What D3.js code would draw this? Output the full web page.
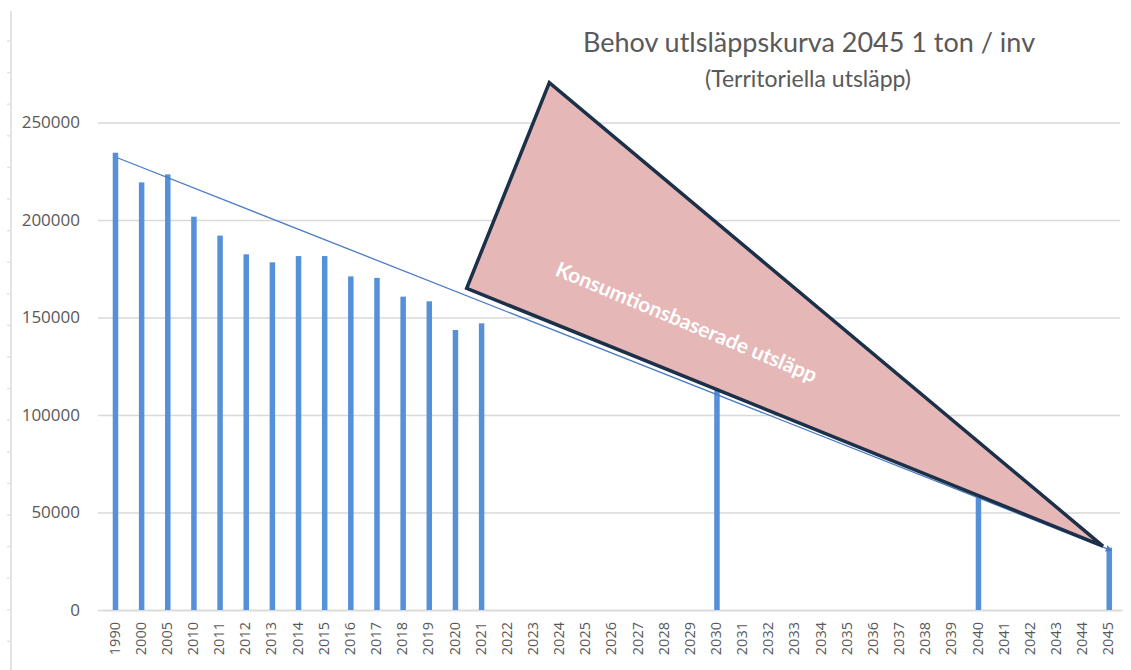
<!DOCTYPE html>
<html>
<head>
<meta charset="utf-8">
<script src="https://cdn.jsdelivr.net/npm/d3@7"></script>
<style>
  body { margin: 0; background: #fff; }
  svg { display: block; font-family: Lato, "Open Sans", sans-serif; }
</style>
</head>
<body>
<svg></svg>
<script>
// categories on the x axis (uneven years, like the sheet)
let years = ["1990", "2000", "2005", "2010", "2011", "2012", "2013", "2014", "2015", "2016",
  "2017", "2018", "2019", "2020", "2021", "2022", "2023", "2024", "2025", "2026",
  "2027", "2028", "2029", "2030", "2031", "2032", "2033", "2034", "2035", "2036",
  "2037", "2038", "2039", "2040", "2041", "2042", "2043", "2044", "2045"]

// emissions (ton), null = no bar
let emissions = [234500, 219300, 223400, 201700, 192000, 182400, 178300, 181500, 181500, 171100,
  170300, 160700, 158300, 143600, 147000, null, null, null, null, null,
  null, null, null, 112500, null, null, null, null, null, null,
  null, null, null, 58100, null, null, null, null, 32000]

// straight target line 1990 -> 2045
let trendYears = ["1990", "2045"]
let trendValues = [231800, 31000]

let yTicks = [0, 50000, 100000, 150000, 200000, 250000]

// the pink triangle annotation (category index, value)
let triIndex = [16.59, 13.43, 37.76]
let triValues = [270400, 165000, 32800]
let noteText = "Konsumtionsbaserade utsläpp"
let notePos = [21.85, 148200]

let title = "Behov utlsläppskurva 2045 1 ton / inv"
let subtitle = "(Territoriella utsläpp)"

let width = 1131
let height = 670

let svg = d3.select("svg").attr("width", width).attr("height", height)

let xScale = d3.scaleBand()
  .domain(years)
  .range([102.4, 1122.3])
  .paddingInner(0.79)
  .paddingOuter(0.395)

let yScale = d3.scaleLinear()
  .domain([0, 250000])
  .range([610, 122.5])

// continuous version of the category axis for the annotation shape
let idxScale = d3.scaleLinear()
  .domain([0, years.length - 1])
  .range([xScale(years[0]) + xScale.bandwidth() / 2, xScale(years[years.length - 1]) + xScale.bandwidth() / 2])

// faint ruler at the left edge (screenshot artifact)
let ruler = svg.append("g")
ruler.append("line")
  .attr("x1", 11).attr("x2", 11).attr("y1", 11).attr("y2", height)
  .attr("stroke", "#e3e3e3").attr("stroke-width", 2)
ruler.selectAll("line.rt")
  .data(d3.range(41, height, 31.6))
  .enter().append("line")
  .attr("class", "rt")
  .attr("x1", 7).attr("x2", 11)
  .attr("y1", d => d).attr("y2", d => d)
  .attr("stroke", "#e3e3e3").attr("stroke-width", 1.5)

// gridlines + y labels
let yAxis = d3.axisLeft(yScale)
  .tickValues(yTicks)
  .tickSize(-(1120 - 98))
  .tickPadding(18)
  .tickFormat(d => d)

svg.append("g")
  .attr("transform", "translate(98,0)")
  .call(yAxis)
  .call(g => g.select(".domain").remove())
  .call(g => g.selectAll("line").attr("stroke", "#d9d9d9").attr("stroke-width", 1.3))
  .call(g => g.selectAll("text")
    .attr("fill", "#595959")
    .style("font-size", "17px")
    .style("font-family", "'Open Sans', sans-serif"))

// x axis
let xAxis = d3.axisBottom(xScale).tickSize(0).tickPadding(0)
svg.append("g")
  .attr("transform", "translate(0,610)")
  .call(xAxis)
  .call(g => g.select(".domain").attr("stroke", "#d9d9d9").attr("stroke-width", 1.3))
  .call(g => g.selectAll("text")
    .attr("fill", "#595959")
    .style("font-size", "14.5px")
    .style("font-family", "'Open Sans', sans-serif")
    .attr("text-anchor", "end")
    .attr("transform", "translate(-1,12) rotate(-90)")
    .attr("dx", 0)
    .attr("dy", "0.35em")
    .attr("y", 0)
    .attr("x", 0))

// bars
let barData = years.map((y, i) => [y, emissions[i]]).filter(d => d[1] != null)
svg.selectAll("rect.bar")
  .data(barData)
  .enter()
  .append("rect")
  .attr("class", "bar")
  .attr("x", d => xScale(d[0]))
  .attr("width", xScale.bandwidth())
  .attr("y", d => yScale(d[1]))
  .attr("height", d => yScale(0) - yScale(d[1]))
  .attr("fill", "#5590d8")

// trend line with small arrow at the end
svg.append("defs").append("marker")
  .attr("id", "arr")
  .attr("viewBox", "0 0 10 10")
  .attr("refX", 5).attr("refY", 5)
  .attr("markerWidth", 5).attr("markerHeight", 5)
  .attr("orient", "auto")
  .append("path")
  .attr("d", "M0,0 L10,5 L0,10 z")
  .attr("fill", "#4a7cc4")

let trendData = trendYears.map((y, i) => [y, trendValues[i]])
svg.append("path")
  .datum(trendData)
  .attr("fill", "none")
  .attr("stroke", "#4a7cc4")
  .attr("stroke-width", 1.3)
  .attr("marker-end", "url(#arr)")
  .attr("d", d3.line()
    .x(d => xScale(d[0]) + xScale.bandwidth() / 2 + (d[0] == "1990" ? 2.5 : 0))
    .y(d => yScale(d[1])))

// triangle annotation
let triPts = triIndex.map((t, i) => [idxScale(t), yScale(triValues[i])])
svg.append("path")
  .attr("d", d3.line()(triPts) + "Z")
  .attr("fill", "#e5b7b6")
  .attr("stroke", "#1c3049")
  .attr("stroke-width", 3.5)
  .attr("stroke-linejoin", "miter")

svg.append("text")
  .attr("transform", "translate(" + idxScale(notePos[0]) + "," + yScale(notePos[1]) + ") rotate(22.6)")
  .attr("text-anchor", "middle")
  .attr("dominant-baseline", "central")
  .attr("fill", "#ffffff")
  .style("font-size", "21px")
  .style("font-weight", "bold")
  .text(noteText)

// titles
svg.append("text")
  .attr("x", 809).attr("y", 52)
  .attr("text-anchor", "middle")
  .attr("fill", "#595959")
  .style("font-size", "27px")
  .text(title)

svg.append("text")
  .attr("x", 808).attr("y", 87)
  .attr("text-anchor", "middle")
  .attr("fill", "#595959")
  .style("font-size", "23px")
  .text(subtitle)
</script>
</body>
</html>
